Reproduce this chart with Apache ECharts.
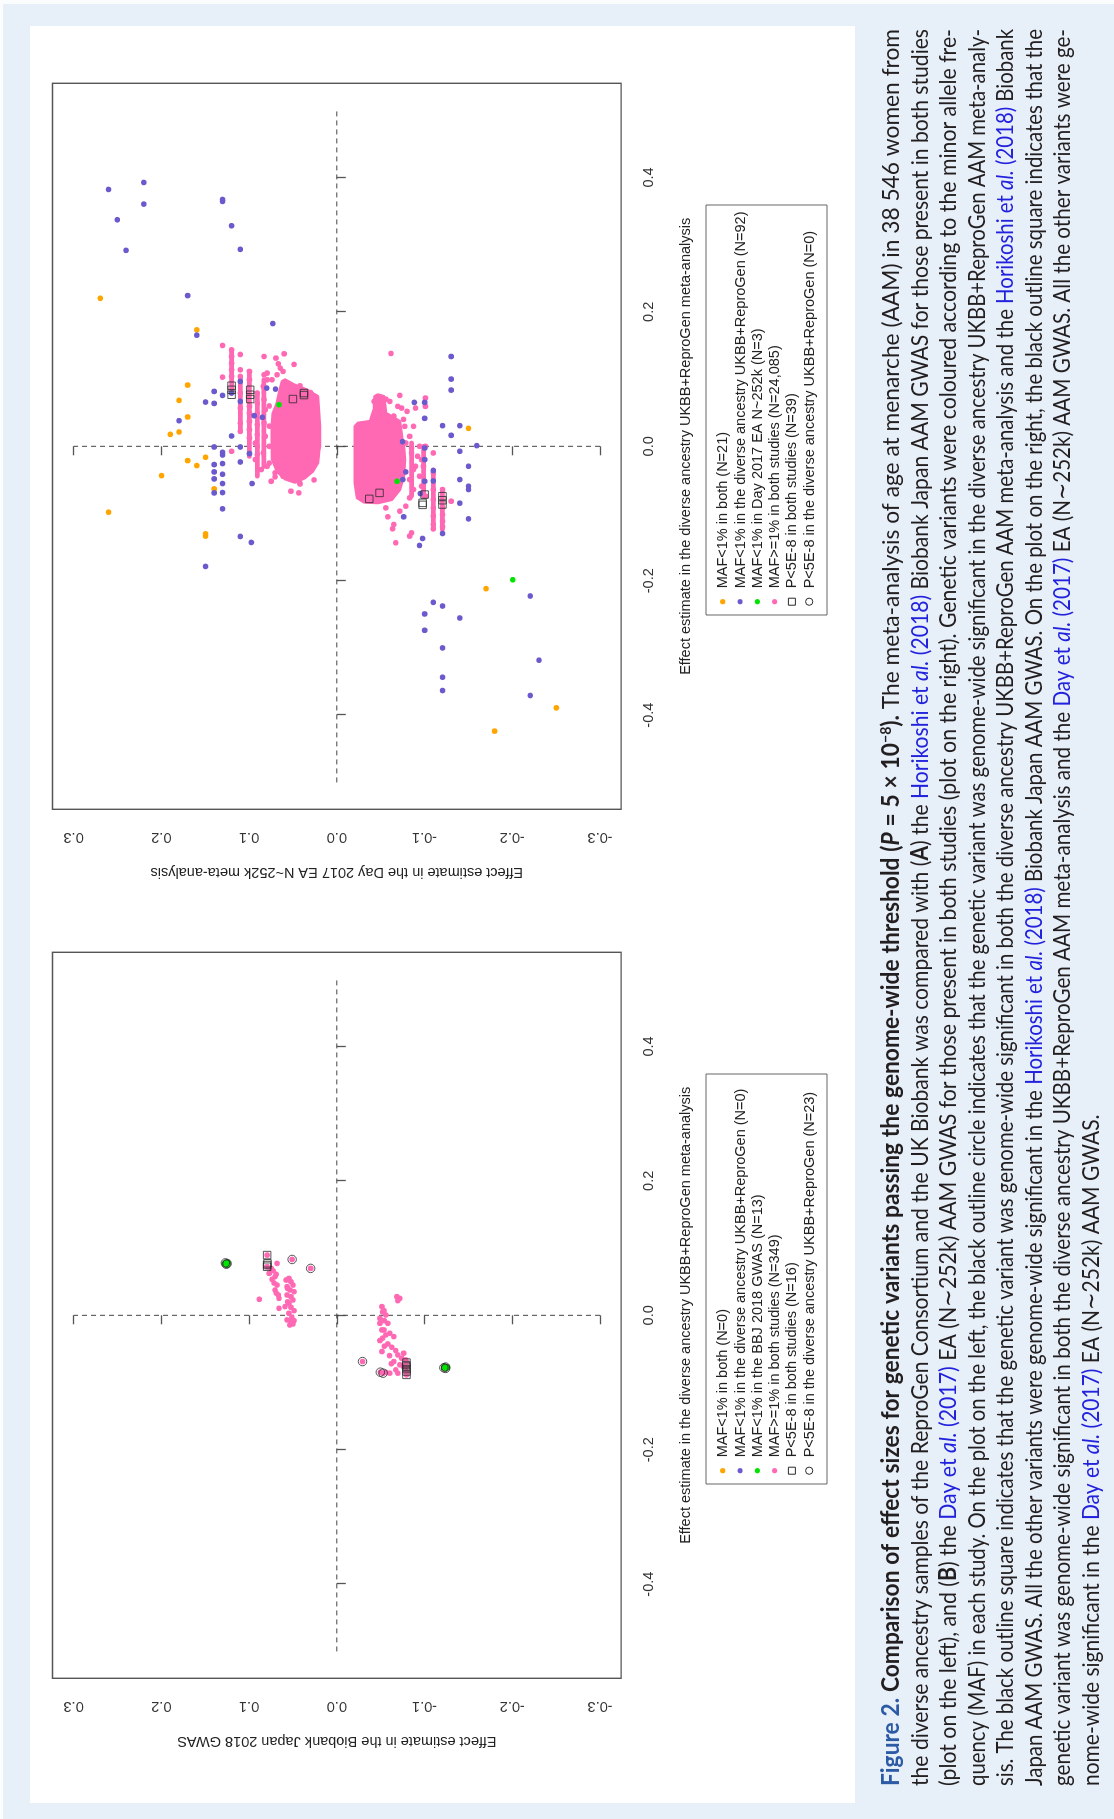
<!DOCTYPE html>
<html><head><meta charset="utf-8">
<script src="https://cdn.jsdelivr.net/npm/echarts@6/dist/echarts.min.js"></script>
<style>
html,body{margin:0;padding:0;overflow:hidden;width:1114px;height:1819px;background:#e7eff9;}
#page{position:absolute;left:0;top:1819px;width:1819px;height:1114px;transform-origin:0 0;transform:rotate(-90deg);background:#e7eff9;}
#strip1{position:absolute;left:0;top:0;width:1819px;height:3px;background:#fbfcfe;}
#strip2{position:absolute;left:1815px;top:0;width:4px;height:1114px;background:#fbfcfe;}
#panel{position:absolute;left:16px;top:30px;width:1777px;height:825px;background:#ffffff;}
#chart{position:absolute;left:0;top:0;width:1819px;height:1114px;}
</style></head>
<body>
<div id="page"><div id="strip1"></div><div id="strip2"></div><div id="panel"></div><div id="chart"></div></div>
<script>
// ---------- axis ticks / titles ----------
const xTicks = [-0.4, -0.2, 0.0, 0.2, 0.4];
const yTicks = [-0.3, -0.2, -0.1, 0.0, 0.1, 0.2, 0.3];
const xTitle = 'Effect estimate in the diverse ancestry UKBB+ReproGen meta-analysis';
const yTitleA = 'Effect estimate in the Biobank Japan 2018 GWAS';
const yTitleB = 'Effect estimate in the Day 2017 EA N~252k meta-analysis';

// ---------- legends ----------
const legendA = [
  'MAF<1% in both (N=0)',
  'MAF<1% in the diverse ancestry UKBB+ReproGen (N=0)',
  'MAF<1% in the BBJ 2018 GWAS (N=13)',
  'MAF>=1% in both studies (N=349)',
  'P<5E-8 in both studies (N=16)',
  'P<5E-8 in the diverse ancestry UKBB+ReproGen (N=23)'
];
const legendB = [
  'MAF<1% in both (N=21)',
  'MAF<1% in the diverse ancestry UKBB+ReproGen (N=92)',
  'MAF<1% in Day 2017 EA N~252k (N=3)',
  'MAF>=1% in both studies (N=24,085)',
  'P<5E-8 in both studies (N=39)',
  'P<5E-8 in the diverse ancestry UKBB+ReproGen (N=0)'
];
const legendKinds = ['orange', 'blue', 'green', 'pink', 'square', 'circle'];

// ---------- reference lines ----------
const hLine = [[-0.5, 0], [0.5, 0]];
const vLine = [[0, -0.3], [0, 0.3]];

// ---------- plot A (Biobank Japan) ----------
const aGreen = [[0.078,0.127],[0.077,0.125],[0.076,0.126],[0.079,0.124],[0.077,0.128],[0.075,0.125],
  [-0.077,-0.124],[-0.078,-0.122],[-0.078,-0.125],[-0.076,-0.123],[-0.079,-0.124],[-0.077,-0.126],[-0.078,-0.123]];
const aPink = [
  [0.0896,0.0794],[0.0723,0.0794],[0.0772,0.0681],[0.0698,0.0748],[0.0624,0.0771],[0.0663,0.0726],[0.0574,0.0703],
  [0.0535,0.0739],[0.0450,0.0681],[0.0376,0.0703],[0.0302,0.0667],[0.0252,0.0658],[0.0104,0.0658],[0.0238,0.0884],
  [0.0525,0.0577],[0.0549,0.0546],[0.0500,0.0523],[0.0450,0.0500],[0.0426,0.0568],[0.0376,0.0532],[0.0351,0.0487],
  [0.0302,0.0568],[0.0277,0.0523],[0.0228,0.0500],[0.0178,0.0546],[0.0129,0.0591],[0.0119,0.0523],[0.0069,0.0487],
  [0.0030,0.0546],[-0.0030,0.0514],[-0.0079,0.0487],[-0.0129,0.0500],[-0.0069,0.0568],[-0.0144,0.0537],[-0.0094,0.0520],
  [0.0831,0.0509],[0.0698,0.0298],[0.0610,0.0690],[0.0480,0.0715],[0.0330,0.0690],[0.0400,0.0560],[0.0200,0.0560],
  [0.0277,-0.0685],[0.0252,-0.0717],[0.0218,-0.0694],[0.0129,-0.0514],[0.0069,-0.0537],[0.0005,-0.0559],[-0.0045,-0.0491],
  [-0.0119,-0.0582],[-0.0218,-0.0514],[-0.0267,-0.0604],[-0.0317,-0.0649],[-0.0119,-0.0491],[-0.0218,-0.0537],
  [-0.0292,-0.0559],[-0.0376,-0.0491],[-0.0426,-0.0582],[-0.0475,-0.0627],[-0.0525,-0.0672],[-0.0539,-0.0514],
  [-0.0589,-0.0694],[-0.0638,-0.0739],[-0.0688,-0.0649],[-0.0564,-0.0762],[-0.0737,-0.0717],[-0.0812,-0.0672],
  [-0.0861,-0.0604],[-0.0762,-0.0762],[-0.0861,-0.0694],[-0.0663,-0.0785],[-0.0846,-0.0559],[-0.0688,-0.0293],
  [-0.0846,-0.0496],[-0.0861,-0.0528],[-0.0703,-0.0794],[-0.0762,-0.0794],[-0.0836,-0.0794],[-0.0886,-0.0794],
  [0.0050,-0.0520],[-0.0080,-0.0540],[-0.0340,-0.0520],[-0.0460,-0.0540],[-0.0600,-0.0600],[-0.0720,-0.0620]];
const aSquare = [[0.0896,0.0794],[0.0723,0.0794],[0.0748,0.0794],[0.0773,0.0790],
  [-0.0703,-0.0794],[-0.0762,-0.0794],[-0.0836,-0.0794],[-0.0886,-0.0794],[-0.0740,-0.0790],[-0.0800,-0.0794]];
const aCircle = [[0.078,0.127],[0.076,0.126],[0.077,0.125],[-0.077,-0.124],[-0.078,-0.122],[-0.079,-0.124],
  [0.0831,0.0509],[0.0698,0.0298],[-0.0688,-0.0293],[-0.0846,-0.0496],[-0.0861,-0.0528]];

// ---------- plot B (Day 2017) ----------
const bOrange = [[0.2202,0.2696],[0.1732,0.1596],[0.0911,0.1700],[0.0683,0.1799],[0.0436,0.1700],[0.0178,0.1898],
  [0.0213,0.1799],[0.0267,-0.1501],[-0.0163,0.1497],[-0.0213,0.1700],[-0.0287,0.1596],[-0.0436,0.1997],[-0.0634,0.1398],
  [-0.0980,0.2601],[-0.1302,0.1497],[-0.1336,0.1497],[-0.2118,-0.1700],[-0.3890,-0.2502],[-0.4237,-0.1799]];
const bBlue = [[0.3821,0.2601],[0.3925,0.2200],[0.3603,0.2200],[0.3370,0.2502],[0.2915,0.2403],[0.3672,0.1303],
  [0.3643,0.1303],[0.3281,0.1199],[0.2930,0.1100],[0.2242,0.1700],[0.1653,0.1596],[0.1826,0.0730],[0.1336,-0.1303],
  [0.1000,-0.1303],[0.0836,-0.1303],[0.0653,-0.0884],[0.0653,-0.1001],[0.0416,-0.1001],[0.0307,-0.1204],[0.0307,-0.1402],
  [0.0163,-0.1303],[0.0817,0.1398],[0.0658,0.1497],[0.0638,0.1398],[0.0757,0.1303],[0.0965,0.1100],[0.0866,0.0798],
  [0.0851,0.0699],[0.0455,0.0942],[0.0431,0.0848],[0.0668,0.1100],[0.0792,0.1199],[0.0381,0.1799],[0.0153,0.1199],
  [0.0010,-0.1596],[-0.0010,0.1398],[-0.0010,0.1100],[-0.0089,0.1303],[-0.0129,0.1303],[-0.0109,0.0996],[-0.0233,0.1100],
  [-0.0272,0.1398],[-0.0381,0.1398],[-0.0485,0.1398],[-0.0693,0.1398],[-0.0257,0.1303],[-0.0416,0.1303],[-0.0554,0.1303],
  [-0.0688,0.1303],[-0.0930,0.1303],[-0.0554,0.0965],[-0.1341,0.1100],[-0.1430,0.0974],[-0.1787,0.1497],[0.0069,-0.0748],
  [-0.0074,-0.1402],[-0.0297,-0.1501],[-0.0495,-0.1402],[-0.0594,-0.1501],[-0.0643,-0.1501],[-0.0025,-0.1001],
  [-0.0198,-0.1001],[-0.0520,-0.1001],[-0.0361,-0.1100],[-0.0515,-0.1100],[-0.0381,-0.0785],[-0.0495,-0.0753],
  [-0.0846,-0.1402],[-0.1049,-0.0762],[-0.1079,-0.1501],[-0.1297,-0.1204],[-0.1371,-0.0978],[-0.1475,-0.0942],
  [-0.0703,-0.0951],[-0.2227,-0.2205],[-0.2321,-0.1100],[-0.2376,-0.1204],[-0.2494,-0.1001],[-0.2554,-0.1402],
  [-0.2737,-0.1001],[-0.2999,-0.1204],[-0.3182,-0.2304],[-0.3435,-0.1204],[-0.3633,-0.1204],[-0.3707,-0.2205]];
const bGreen = [[0.0619,0.0658],[-0.0520,-0.0686],[-0.1985,-0.2006]];
const bSquare = [[0.0901,0.1199],[0.0767,0.1199],[0.0841,0.1199],[0.0841,0.0987],[0.0703,0.0987],[0.0767,0.0987],
  [0.0703,0.0500],[0.0792,0.0374],[0.0762,0.0374],[-0.0782,-0.0370],[-0.0693,-0.0487],[-0.0718,-0.1001],
  [-0.0841,-0.0978],[-0.0871,-0.0978],[-0.0742,-0.1204],[-0.0802,-0.1204],[-0.0866,-0.1204]];
// outline of the two dense clouds of MAF>=1% variants (24,085 overlapping points)
const bCloudUpper = [[0.099,0.059],[0.0916,0.0487],[0.0841,0.0343],[0.0742,0.0216],[0.0297,0.0194],[0.0,0.0194],
  [-0.0099,0.0207],[-0.0247,0.0216],[-0.0371,0.0275],[-0.047,0.0365],[-0.0535,0.0478],[-0.0485,0.059],[-0.0371,0.0681],
  [-0.0198,0.0735],[0.0099,0.0739],[0.0297,0.0739],[0.0495,0.0726],[0.0643,0.0681],[0.0841,0.0649],[0.0965,0.0622]];
const bCloudLower = [[0.0767,-0.0469],[0.0742,-0.0537],[0.0495,-0.0559],[0.0371,-0.0717],[0.0148,-0.0739],[0,-0.0762],
  [-0.0198,-0.0775],[-0.0445,-0.0762],[-0.0643,-0.0717],[-0.0792,-0.0627],[-0.0841,-0.0469],[-0.0831,-0.0311],
  [-0.0767,-0.0234],[-0.0544,-0.0207],[0.0099,-0.0207],[0.0297,-0.0207],[0.0346,-0.0243],[0.0371,-0.0379],
  [0.0544,-0.0424],[0.0742,-0.0433]];
// continuous runs of overlapping points sharing one effect size in the Day 2017 study: [x from, x to, y]
const bStreaks = [[0.1435,0.0790,0.1199],[0.1040,0.0220,0.1100],[0.1110,-0.0150,0.0996],[0.0790,-0.0450,0.0906],
  [0.0990,-0.0300,0.0830],
  [0.0050,-0.0740,-0.0852],[0.0000,-0.0740,-0.0990],[-0.0350,-0.1230,-0.1100],[-0.0640,-0.1240,-0.1204]];
const bPink = [[0.1500,0.1303],[0.1435,0.1199],[0.1336,0.1199],[0.1237,0.1199],[0.1138,0.1199],[0.1039,0.1199],
  [0.1029,0.1303],[0.1366,0.1100],[0.1138,0.1100],[0.1039,0.1100],[0.0792,0.1100],[0.0569,0.1100],[0.0346,0.1100],
  [0.0223,0.1100],[0.1114,0.0996],[0.0990,0.0996],[0.0594,0.0996],[0.0495,0.0996],[0.0371,0.0996],[0.0247,0.0996],
  [0.0124,0.0996],[0.0792,0.0906],[0.0643,0.0906],[0.0495,0.0906],[0.0322,0.0906],[0.0173,0.0906],[0.0049,0.0929],
  [0.1336,0.0830],[0.1064,0.0830],[0.0891,0.0839],[0.0693,0.0830],[0.0544,0.0816],[0.0346,0.0830],[0.0148,0.0816],
  [0.1089,0.0794],[0.0990,0.0794],[0.1312,0.0694],[0.1227,0.0667],[0.1376,0.0600],[0.1163,0.0645],[0.1218,0.0487],
  [0.0990,0.0739],[0.1064,0.0681],[0.1114,0.0613],[0.0,0.0906],[-0.0099,0.0839],[-0.0198,0.0929],[-0.0346,0.0861],
  [-0.0297,0.0794],[-0.0396,0.0703],[-0.0455,0.0703],[-0.0445,0.0613],[-0.0668,0.0523],[-0.0693,0.0433],[-0.0544,0.0424],
  [-0.0074,0.1199],[-0.0520,0.0748],[-0.0124,0.0906],[0.0600,0.0770],[0.0300,0.0770],[0.0000,0.0770],[-0.0250,0.0770],
  [0.1381,-0.0618],[0.0757,-0.0717],[0.0668,-0.0604],[0.0668,-0.0424],[0.0594,-0.0694],[0.0569,-0.0739],[0.0569,-0.0897],
  [0.0718,-0.1010],[0.0594,-0.1010],[0.0297,-0.0775],[0.0297,-0.0875],[-0.0025,-0.0852],[0.0,-0.0942],[0.0,-0.1010],
  [-0.0099,-0.1100],[-0.0198,-0.0965],[-0.0297,-0.0897],[0.0148,-0.0830],[0.0049,-0.0785],[-0.0099,-0.0852],
  [-0.0148,-0.0920],[-0.0297,-0.0987],[-0.0346,-0.0875],[-0.0445,-0.0942],[-0.0495,-0.0830],[-0.0594,-0.0965],
  [-0.0643,-0.0875],[-0.0742,-0.1010],[-0.0396,-0.1100],[-0.0643,-0.1100],[-0.0792,-0.1100],[-0.0916,-0.1100],
  [-0.1039,-0.1100],[-0.1163,-0.1100],[-0.1227,-0.1100],[-0.0643,-0.1204],[-0.0916,-0.1204],[-0.1015,-0.1204],
  [-0.1114,-0.1204],[-0.1198,-0.1204],[-0.0817,-0.1303],[-0.1336,-0.0830],[-0.1287,-0.0852],[-0.1435,-0.0672],
  [-0.1163,-0.0649],[-0.1227,-0.0636],[-0.1049,-0.0582],[-0.0891,-0.0785],[-0.0965,-0.0717],[-0.0916,-0.0559],
  [-0.0767,-0.0830],[0.0600,-0.0470],[0.0700,-0.0560],[0.0450,-0.0650],[0.0520,-0.0800],[0.0400,-0.0760],
  [0.0880,0.0560],[0.0900,0.0420],[0.0800,0.0300],[-0.0500,0.0260],[-0.0560,0.0420]];

// ---------- caption (one entry per printed line; [style, text]) ----------
const captionLines = [
  [['fig','Figure 2.'],['b',' Comparison of effect sizes for genetic variants passing the genome-wide threshold ('],['bi','P'],['b',' = 5 \u00d7 10'],['sup','\u22128'],['b',').'],['n',' The meta-analysis of age at menarche (AAM) in 38 546 women from']],
  [['n','the diverse ancestry samples of the ReproGen Consortium and the UK Biobank was compared with ('],['b','A'],['n',') the '],['l','Horikoshi et '],['li','al.'],['l',' (2018)'],['n',' Biobank Japan AAM GWAS for those present in both studies']],
  [['n','(plot on the left), and ('],['b','B'],['n',') the '],['l','Day et '],['li','al.'],['l',' (2017)'],['n',' EA (N\u223c252k) AAM GWAS for those present in both studies (plot on the right). Genetic variants were coloured according to the minor allele fre-']],
  [['n','quency (MAF) in each study. On the plot on the left, the black outline circle indicates that the genetic variant was genome-wide significant in the diverse ancestry UKBB+ReproGen AAM meta-analy-']],
  [['n','sis. The black outline square indicates that the genetic variant was genome-wide significant in both the diverse ancestry UKBB+ReproGen AAM meta-analysis and the '],['l','Horikoshi et '],['li','al.'],['l',' (2018)'],['n',' Biobank']],
  [['n','Japan AAM GWAS. All the other variants were genome-wide significant in the '],['l','Horikoshi et '],['li','al.'],['l',' (2018)'],['n',' Biobank Japan AAM GWAS. On the plot on the right, the black outline square indicates that the']],
  [['n','genetic variant was genome-wide significant in both the diverse ancestry UKBB+ReproGen AAM meta-analysis and the '],['l','Day et '],['li','al.'],['l',' (2017)'],['n',' EA (N\u223c252k) AAM GWAS. All the other variants were ge-']],
  [['n','nome-wide significant in the '],['l','Day et '],['li','al.'],['l',' (2017)'],['n',' EA (N\u223c252k) AAM GWAS.']]
];

// ---------- styling / layout ----------
const PLOT_FONT = '"Liberation Sans", Arial, Helvetica, sans-serif';
const PFS = 14.5;
const COL = {orange:'#ffa500', blue:'#6a5acd', green:'#00e400', pink:'#ff69b4', outline:'#2a2a2a'};
const GRID_TOP = 52.5, GRID_W = 726, GRID_H = 568.6;
const GRID_LEFT = [140.7, 1009.7];

function axesFor(i, yTitle) {
  const x = {
    type:'value', gridIndex:i, min:-0.54, max:0.54,
    axisLine:{show:false}, splitLine:{show:false},
    axisTick:{show:true, length:9, customValues:xTicks, lineStyle:{color:'#555', width:1.3}},
    axisLabel:{customValues:xTicks, formatter:v=>v.toFixed(1), fontSize:PFS, color:'#333', fontFamily:PLOT_FONT, margin:20},
    name:xTitle, nameLocation:'middle', nameGap:57,
    nameTextStyle:{fontSize:PFS, color:'#222', fontFamily:PLOT_FONT}
  };
  const y = {
    type:'value', gridIndex:i, min:-0.324, max:0.324,
    axisLine:{show:false}, splitLine:{show:false},
    axisTick:{show:true, length:9, customValues:yTicks, lineStyle:{color:'#555', width:1.3}},
    axisLabel:{customValues:yTicks, formatter:v=>v.toFixed(1), rotate:90, fontSize:PFS, color:'#333', fontFamily:PLOT_FONT, margin:20},
    name:yTitle, nameLocation:'middle', nameGap:55, nameRotate:90,
    nameTextStyle:{fontSize:PFS, color:'#222', fontFamily:PLOT_FONT}
  };
  return [x, y];
}

function lineSeries(i, data) {
  return {type:'line', xAxisIndex:i, yAxisIndex:i, data, showSymbol:false, symbol:'none', silent:true, z:1,
    lineStyle:{color:'#444', width:1, type:[5,4]}};
}
function dots(i, data, color, z) {
  return {type:'scatter', xAxisIndex:i, yAxisIndex:i, data, symbol:'circle', symbolSize:5.6, silent:true, z:z||3,
    itemStyle:{color, opacity:1}};
}
function outlines(i, data, symbol, size) {
  return {type:'scatter', xAxisIndex:i, yAxisIndex:i, data, symbol, symbolSize:size, silent:true, z:6,
    itemStyle:{color:'rgba(0,0,0,0)', borderColor:COL.outline, borderWidth:1}};
}
function cloud(i, poly) {
  return {type:'custom', xAxisIndex:i, yAxisIndex:i, data:[poly[0]], silent:true, z:2,
    renderItem:(params, api) => ({type:'polygon', shape:{points:poly.map(p => api.coord(p))},
      style:{fill:COL.pink, stroke:COL.pink, lineWidth:3, lineJoin:'round'}})};
}
function streaks(i, data) {
  return {type:'custom', xAxisIndex:i, yAxisIndex:i, data, silent:true, z:2,
    encode:{x:[0,1], y:2},
    renderItem:(params, api) => {
      const a = api.coord([api.value(0), api.value(2)]), b = api.coord([api.value(1), api.value(2)]);
      return {type:'line', shape:{x1:a[0], y1:a[1], x2:b[0], y2:b[1]}, style:{stroke:COL.pink, lineWidth:4.8, lineCap:'round', lineDash:[5,1.5]}};
    }};
}

function legendGraphic(i, items) {
  const gl = GRID_LEFT[i];
  const els = [{type:'rect', shape:{x:gl+194.3, y:706, width:410, height:121}, style:{fill:'#fff', stroke:'#666', lineWidth:1}, z:10}];
  items.forEach((txt, k) => {
    const cy = 722.7 + k*17.3, cx = gl + 207.6, kind = legendKinds[k];
    if (kind === 'square') els.push({type:'rect', shape:{x:cx-3.5, y:cy-3.5, width:7, height:7}, style:{fill:'none', stroke:COL.outline, lineWidth:1}, z:11});
    else if (kind === 'circle') els.push({type:'circle', shape:{cx, cy, r:3.6}, style:{fill:'none', stroke:COL.outline, lineWidth:1}, z:11});
    else els.push({type:'circle', shape:{cx, cy, r:2.6}, style:{fill:COL[kind]}, z:11});
    els.push({type:'text', x:gl+221, y:cy+0.5, z:11, style:{text:txt, fontFamily:PLOT_FONT, fontSize:PFS, fill:'#222', verticalAlign:'middle', align:'left'}});
  });
  return els;
}

// caption layout with justified lines
const CAP_FS = 24, CAP_LEFT = 33, CAP_RIGHT = 1790, CAP_BASE0 = 899.5, CAP_LH = 28.5, CAP_MID = 0.33;
const TXT = '#231f20', LINK = '#2222dd';
const capStyles = {
  n:{w:'normal', s:'normal', c:TXT}, b:{w:'bold', s:'normal', c:TXT}, bi:{w:'bold', s:'italic', c:TXT},
  fig:{w:'bold', s:'normal', c:'#2c5aa4'}, l:{w:'normal', s:'normal', c:LINK}, li:{w:'normal', s:'italic', c:LINK},
  sup:{w:'bold', s:'normal', c:TXT, k:0.62, dy:-8}
};
const mctx = document.createElement('canvas').getContext('2d');
function capFont(st){ return st.s + ' ' + st.w + ' ' + (CAP_FS*(st.k||1)) + 'px Lato'; }
function measure(st, t){ mctx.font = capFont(st); return mctx.measureText(t).width; }
function tokenize(line) {
  const tokens = []; let cur = [];
  line.forEach(([key, txt]) => {
    txt.split(' ').forEach((p, idx) => {
      if (idx > 0) { if (cur.length) tokens.push(cur); cur = []; }
      if (p.length) cur.push({st:capStyles[key], text:p});
    });
  });
  if (cur.length) tokens.push(cur);
  tokens.forEach(t => { t.forEach(p => p.w = measure(p.st, p.text)); t.w = t.reduce((a,p)=>a+p.w, 0); });
  return tokens;
}
function captionGraphic() {
  const avail = CAP_RIGHT - CAP_LEFT, spaceW = measure(capStyles.n, ' ');
  const lines = captionLines.map(tokenize);
  const scales = lines.map(t => avail / (t.reduce((a,x)=>a+x.w,0) + spaceW*(t.length-1)));
  const just = scales.slice(0, -1);
  const meanC = just.reduce((a,b)=>a+b,0) / just.length;
  const els = [];
  lines.forEach((tokens, li) => {
    const last = li === lines.length-1;
    const c = last ? meanC : Math.max(0.8, Math.min(1.12, scales[li]));
    const sumW = tokens.reduce((a,x)=>a+x.w,0) * c;
    const gap = last ? spaceW*c : (avail - sumW) / (tokens.length-1);
    let u = CAP_LEFT; const base = CAP_BASE0 + li*CAP_LH;
    tokens.forEach(tok => {
      tok.forEach(p => {
        const fs = CAP_FS*(p.st.k||1);
        els.push({type:'text', x:u, y:base - CAP_MID*fs + (p.st.dy||0), scaleX:c, silent:true, z:12,
          style:{text:p.text, fontFamily:'Lato', fontSize:fs, fontWeight:p.st.w, fontStyle:p.st.s, fill:p.st.c, verticalAlign:'middle', align:'left'}});
        u += p.w*c;
      });
      u += gap;
    });
  });
  return els;
}

// ---------- chart ----------
const chart = echarts.init(document.getElementById('chart'), null, {width:1819, height:1114, renderer:'canvas'});
const [xA, yA] = axesFor(0, yTitleA);
const [xB, yB] = axesFor(1, yTitleB);
chart.setOption({
  animation:false,
  backgroundColor:'transparent',
  textStyle:{fontFamily:PLOT_FONT},
  grid:GRID_LEFT.map(l => ({left:l, top:GRID_TOP, width:GRID_W, height:GRID_H, show:true, borderColor:'#555', borderWidth:1.4,
    backgroundColor:'transparent', containLabel:false, outerBoundsMode:'none'})),
  xAxis:[xA, xB],
  yAxis:[yA, yB],
  series:[
    lineSeries(0, hLine), lineSeries(0, vLine),
    dots(0, aPink, COL.pink, 3),
    dots(0, aGreen, COL.green, 4),
    outlines(0, aSquare, 'rect', 7.5),
    outlines(0, aCircle, 'circle', 8.5),
    lineSeries(1, hLine), lineSeries(1, vLine),
    cloud(1, bCloudUpper), cloud(1, bCloudLower),
    streaks(1, bStreaks),
    dots(1, bPink, COL.pink, 3),
    dots(1, bOrange, COL.orange, 4),
    dots(1, bBlue, COL.blue, 4),
    dots(1, bGreen, COL.green, 5),
    outlines(1, bSquare, 'rect', 7.5)
  ],
  graphic:{elements:[...legendGraphic(0, legendA), ...legendGraphic(1, legendB), ...captionGraphic()]}
});
</script>
</body></html>
